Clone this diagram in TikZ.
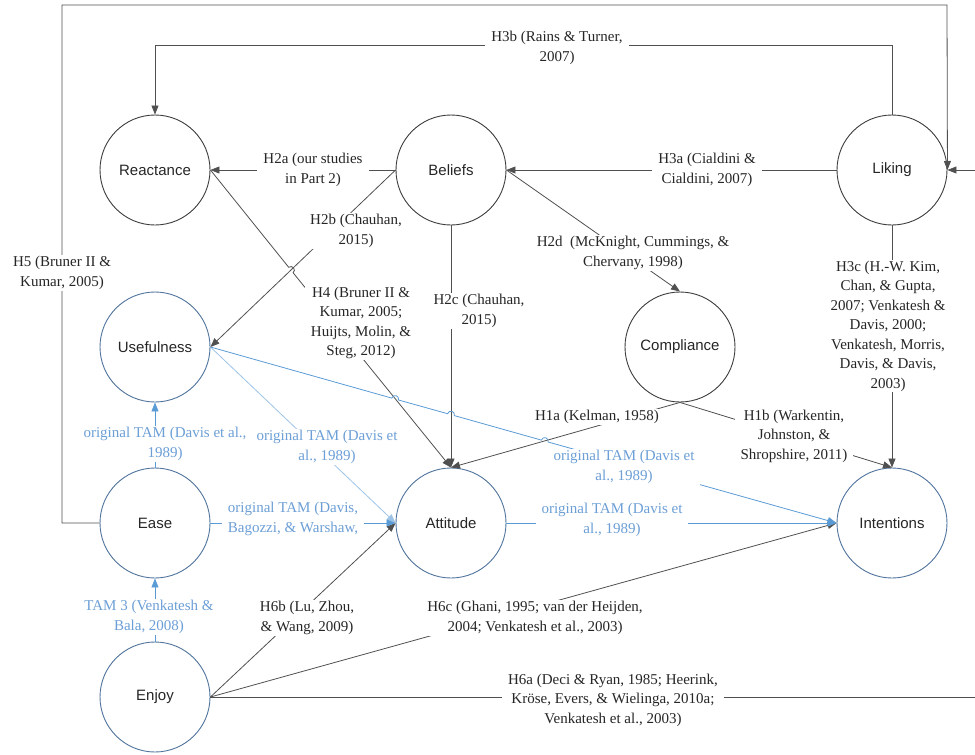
\documentclass[tikz,border=0pt]{standalone}
\usepackage{fontspec}
\setmainfont{Liberation Serif}
\newfontfamily\citefont{Liberation Serif}
\newfontfamily\conceptfont{Liberation Sans}
\usetikzlibrary{arrows.meta}
\definecolor{linegray}{HTML}{505050}
\definecolor{ringgray}{HTML}{3C3C3C}
\definecolor{ringblue}{HTML}{4F739C}
\definecolor{tamblue}{HTML}{5B9BD5}
\definecolor{tamlight}{HTML}{9DC3E6}
\definecolor{tamtext}{HTML}{6C9FD6}
\definecolor{inktext}{HTML}{262626}
\begin{document}
\begin{tikzpicture}[x=1pt,y=-1pt,
  concept/.style={circle, draw=ringgray, line width=0.9pt, minimum size=110pt,
    inner sep=0pt, font=\conceptfont\fontsize{15}{18}\selectfont, text=inktext},
  tamconcept/.style={concept, draw=ringblue},
  link/.style={draw=linegray, line width=0.8pt, -{Triangle[length=9pt,width=7pt]}},
  tamlink/.style={link, draw=tamblue},
  tamfaint/.style={link, draw=tamlight},
  cite/.style={fill=white, inner xsep=6pt, inner ysep=1pt, align=center,
    font=\citefont\fontsize{15}{19.5}\selectfont, text=inktext},
  tamcite/.style={cite, text=tamtext},
]
\useasboundingbox (0,0) rectangle (975,755);

% concepts
\node[concept]    (reactance)  at (155,170) {Reactance};
\node[concept]    (beliefs)    at (451,170) {Beliefs};
\node[concept]    (liking)     at (892,170) {Liking};
\node[tamconcept] (usefulness) at (155,347) {Usefulness};
\node[concept]    (compliance) at (680,347) {Compliance};
\node[tamconcept] (ease)       at (155,523) {Ease};
\node[tamconcept] (attitude)   at (451,523) {Attitude};
\node[tamconcept] (intentions) at (892,523) {Intentions};
\node[tamconcept] (enjoy)      at (155,697) {Enjoy};

% bends of the routed connectors
\coordinate (h3bright) at (892,45);
\coordinate (h3bleft)  at (155,45);
\coordinate (h5low)    at (62,523);
\coordinate (h5high)   at (62,5);
\coordinate (h5end)    at (947,5);
\coordinate (h6alow)   at (990,697);
\coordinate (h6ahigh)  at (990,170);

% where a connector hops over another one
\coordinate (hopH4)  at (288.7,267.3);
\coordinate (hopU1)  at (391.8,398.1);
\coordinate (hopU2)  at (447.6,413.7);
\coordinate (hopU3)  at (541.4,440.1);

% hypotheses
\draw[link] (liking.north) -- (h3bright) -- (h3bleft) -- (reactance.north);
\draw[link] (beliefs.west) -- (reactance.east);
\draw[link] (liking.west) -- (beliefs.east);
\draw[link] (beliefs.west) -- (usefulness.east);
\draw[link] (reactance.east) -- (hopH4)
   arc[start angle=231, end angle=411, radius=3.5] -- (attitude.north);
\draw[link] (beliefs.south) -- (attitude.north);
\draw[link] (beliefs.east) -- (compliance.north);
\draw[link] (liking.south) -- (intentions.north);
\draw[link] (compliance.south) -- (attitude.north);
\draw[link] (compliance.south) -- (intentions.north);
\draw[link] (ease.west) -- (h5low) -- (h5high) -- (h5end) -- (liking.east);
\draw[link] (enjoy.east) -- (attitude.west);
\draw[link] (enjoy.east) -- (intentions.west);
\draw[link] (enjoy.east) -- (h6alow) -- (h6ahigh) -- (liking.east);

% technology acceptance model paths
\draw[tamlink]  (ease.north) -- (usefulness.south);
\draw[tamfaint] (usefulness.east) -- (attitude.west);
\draw[tamlink]  (usefulness.east)
   -- (hopU1) arc[start angle=195.7, end angle=375.7, radius=3.5]
   -- (hopU2) arc[start angle=195.7, end angle=375.7, radius=3.5]
   -- (hopU3) arc[start angle=195.7, end angle=375.7, radius=3.5]
   -- (intentions.west);
\draw[tamlink]  (ease.east) -- (attitude.west);
\draw[tamlink]  (attitude.east) -- (intentions.west);
\draw[tamlink]  (enjoy.north) -- (ease.south);

% citations
\node[cite] (c3b) at (557,48)  {H3b (Rains \& Turner,\\2007)};
\node[cite] (c2a) at (313,170) {H2a (our studies\\in Part 2)};
\node[cite] (c3a) at (707,170) {H3a (Cialdini \&\\Cialdini, 2007)};
\node[cite] (c2b) at (356,231) {H2b (Chauhan,\\2015)};
\node[cite] (c4)  at (361,323) {H4 (Bruner II \&\\Kumar, 2005;\\Huijts, Molin, \&\\Steg, 2012)};
\node[cite] (c2c) at (479,311) {H2c (Chauhan,\\2015)};
\node[cite] (c2d) at (633,253) {H2d\ \ (McKnight, Cummings, \&\\Chervany, 1998)};
\node[cite] (c3c) at (888,326) {H3c (H.-W. Kim,\\Chan, \& Gupta,\\2007; Venkatesh \&\\Davis, 2000;\\Venkatesh, Morris,\\Davis, \& Davis,\\2003)};
\node[cite] (c1a) at (597,417) {H1a (Kelman, 1958)};
\node[cite] (c1b) at (794,436) {H1b (Warkentin,\\Johnston, \&\\Shropshire, 2011)};
\node[cite] (c5)  at (62,273)  {H5 (Bruner II \&\\Kumar, 2005)};
\node[cite] (c6b) at (307,618) {H6b (Lu, Zhou,\\\& Wang, 2009)};
\node[cite] (c6c) at (535,618) {H6c (Ghani, 1995; van der Heijden,\\2004; Venkatesh et al., 2003)};
\node[cite] (c6a) at (613,700) {H6a (Deci \& Ryan, 1985; Heerink,\\Kröse, Evers, \& Wielinga, 2010a;\\Venkatesh et al., 2003)};

\node[tamcite] (t1) at (165,444) {original TAM (Davis et al.,\\1989)};
\node[tamcite] (t2) at (327,447) {original TAM (Davis et\\al., 1989)};
\node[tamcite] (t3) at (293,519) {original TAM (Davis,\\Bagozzi, \& Warshaw,};
\node[tamcite] (t4) at (624,467) {original TAM (Davis et\\al., 1989)};
\node[tamcite] (t5) at (612,520) {original TAM (Davis et\\al., 1989)};
\node[tamcite] (t6) at (149,617) {TAM 3 (Venkatesh \&\\Bala, 2008)};
\end{tikzpicture}
\end{document}
